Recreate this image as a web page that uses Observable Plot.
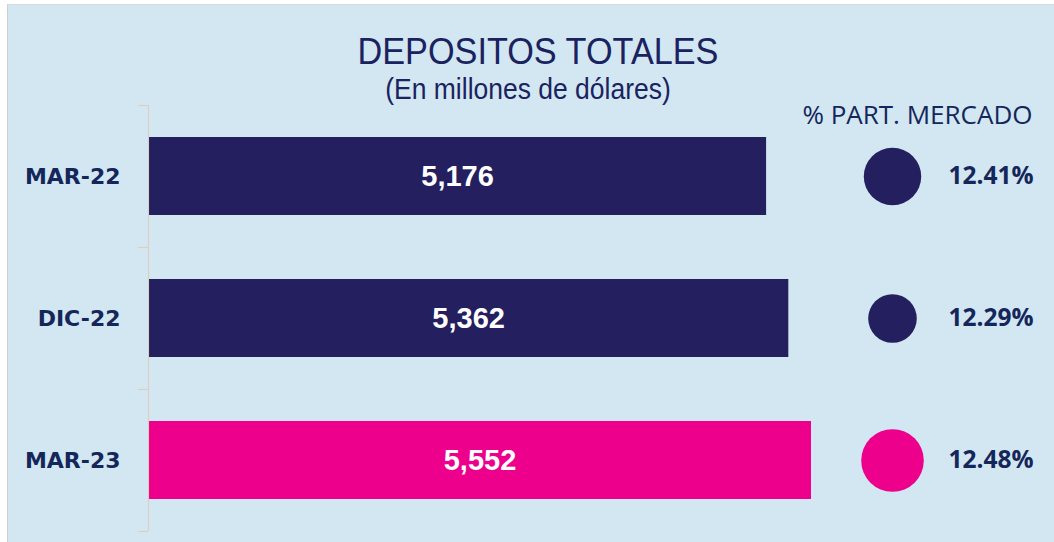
<!DOCTYPE html>
<html>
<head>
<meta charset="utf-8">
<script src="https://cdn.jsdelivr.net/npm/d3@7"></script>
<script src="https://cdn.jsdelivr.net/npm/@observablehq/plot@0.6"></script>
<style>
  html, body { margin: 0; padding: 0; background: #ffffff; }
  body { width: 1054px; height: 542px; position: relative; overflow: hidden; }
  #bg { position: absolute; left: 7px; top: 4px; right: 0; bottom: 0;
        background: #d2e7f2; border-left: 1px solid #cfcfcf; border-top: 1px solid #d9d9d9; }
  #content { position: absolute; left: 0; top: 0; width: 1054px; }
  #header { position: relative; height: 100px; }
  #title, #subtitle { position: absolute; white-space: nowrap; transform-origin: 0 0;
           font-family: "Liberation Sans", Arial, sans-serif; color: #1a2260; }
  #title { left: 537.5px; top: 32.7px; font-size: 37.3px; line-height: 37.3px;
           transform: scaleX(0.918) translateX(-50%); }
  #subtitle { left: 528.3px; top: 74.6px; font-size: 29px; line-height: 29px;
              transform: scaleX(0.913) translateX(-50%); }
  svg { display: block; background: transparent; }
</style>
</head>
<body>
<div id="bg"></div>
<div id="content">
  <div id="header">
    <div id="title">DEPOSITOS TOTALES</div>
    <div id="subtitle">(En millones de dólares)</div>
  </div>
  <div id="chart"></div>
</div>
<script>
// Data
const periods = ["MAR-22", "DIC-22", "MAR-23"];
const deposits = [5176, 5362, 5552];
const marketShare = [12.41, 12.29, 12.48];
const highlight = "MAR-23";
const shareHeader = "% PART. MERCADO";

const data = periods.map((p, i) => ({period: p, value: deposits[i], pct: marketShare[i]}));

const navy = "#241f5e";
const pink = "#ec008c";
const textNavy = "#14265a";
const fillOf = d => d.period === highlight ? pink : navy;

const chart = Plot.plot({
  width: 1054,
  height: 442,
  marginLeft: 148,
  marginRight: 243,
  marginTop: 5,
  marginBottom: 11,
  style: {background: "transparent", overflow: "visible"},
  x: {domain: [0, d3.max(deposits)], axis: null},
  y: {domain: periods, paddingInner: 0.45, paddingOuter: 0.225, label: null},
  r: {type: "linear", domain: [d3.min(marketShare), d3.max(marketShare)], range: [24.3, 31.3]},
  marks: [
    Plot.barX(data, {x: "value", y: "period", fill: fillOf}),
    Plot.ruleX([0], {stroke: "#dccfbd", strokeWidth: 1.1}),
    Plot.ruleY(data, {y: "period", x1: -84, x2: 0, dy: -71, stroke: "#dccfbd", strokeWidth: 1.1}),
    Plot.ruleY(data.slice(-1), {y: "period", x1: -84, x2: 0, dy: 71, stroke: "#dccfbd", strokeWidth: 1.1}),
    Plot.axisY({tickSize: 0, tickPadding: 28, fontSize: 22, fontWeight: "bold",
                fontFamily: "DejaVu Sans", color: textNavy, label: null}),
    Plot.text(data, {x: d => d.value / 2, y: "period", text: d => d3.format(",")(d.value),
                     fill: "white", fontSize: 29, fontWeight: "bold", fontFamily: "Liberation Sans"}),
    Plot.dot(data, {y: "period", r: "pct", fill: fillOf, frameAnchor: "right", dx: 81}),
    Plot.text(data, {y: "period", text: d => d.pct.toFixed(2) + "%", frameAnchor: "right", dx: 222,
                     textAnchor: "end", fontFamily: "Open Sans", fontWeight: "bold", fontSize: 24.5, fill: textNavy}),
    Plot.text([shareHeader], {text: d => d, frameAnchor: "top-right", dx: 221, dy: 0, lineAnchor: "top",
                              textAnchor: "end", fontFamily: "Open Sans", fontSize: 26, fill: textNavy})
  ]
});
document.getElementById("chart").appendChild(chart);
</script>
</body>
</html>
